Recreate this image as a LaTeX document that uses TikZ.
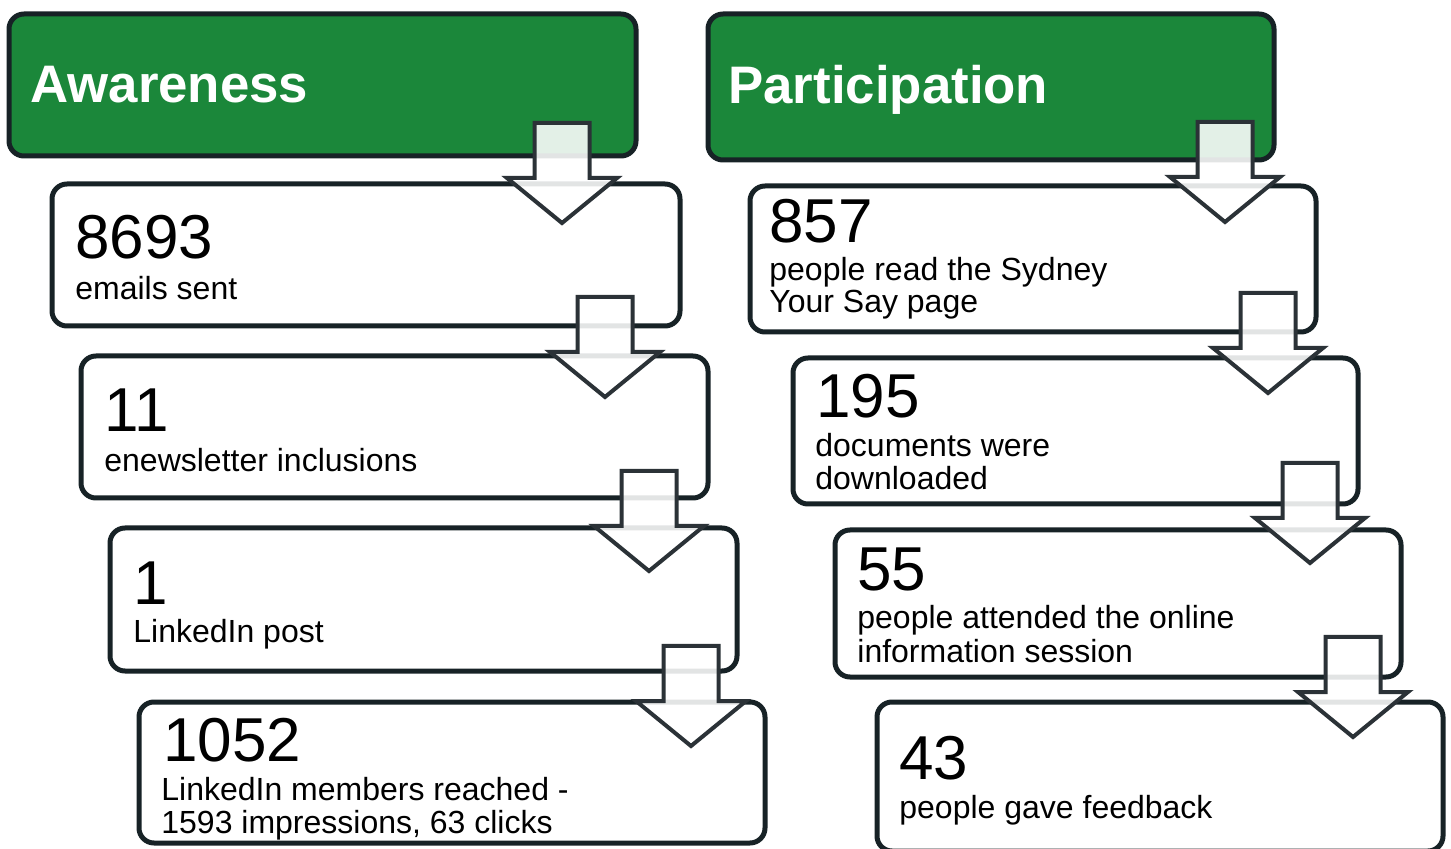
\documentclass[tikz,border=0pt]{standalone}
\usepackage{fontspec}
\setmainfont{Liberation Sans}
\usetikzlibrary{fit}
\definecolor{hdrgreen}{HTML}{1B873A}
\definecolor{edgedark}{HTML}{172226}
\definecolor{arrowedge}{HTML}{2B3237}
\tikzset{
  boxbase/.style={draw=edgedark, line width=2.5pt, rounded corners=7.5pt, inner sep=0pt},
  hdrbox/.style={boxbase, fill=hdrgreen},
  statbox/.style={boxbase, fill=white},
  hdrtext/.style={anchor=base west, inner sep=0pt, text=white, font=\fontsize{26.4}{30}\selectfont\bfseries},
  numtext/.style={anchor=base west, inner sep=0pt, font=\fontsize{31}{34}\selectfont},
  bodytext/.style={anchor=base west, inner sep=0pt, font=\fontsize{16}{18}\selectfont},
  arrowstyle/.style={draw=arrowedge, line width=2pt, fill=white, fill opacity=0.88, line join=miter},
  pics/darrow/.style={code={
    \draw[arrowstyle] (-27.5,0) -- (27.5,0) -- (27.5,55) -- (55,55) -- (0,100)
      -- (-55,55) -- (-27.5,55) -- cycle;}}
}
\begin{document}
\begin{tikzpicture}[x=0.5pt,y=-0.5pt]
\useasboundingbox (0,0) rectangle (1451,849);
% left column
\node[hdrbox, fit={(9,14) (636,156)}] (L0) {};
\node[statbox, fit={(52,184) (680,326)}] (L1) {};
\node[statbox, fit={(81,356) (708,498)}] (L2) {};
\node[statbox, fit={(110,528) (737,671)}] (L3) {};
\node[statbox, fit={(139,702) (765,843)}] (L4) {};
% right column
\node[hdrbox, fit={(708,14) (1274,160)}] (R0) {};
\node[statbox, fit={(750,186) (1316,332)}] (R1) {};
\node[statbox, fit={(793,358) (1358,504)}] (R2) {};
\node[statbox, fit={(835,530) (1401,677)}] (R3) {};
\node[statbox, fit={(877,702) (1443,851)}] (R4) {};
% headers
\node[hdrtext] (L0t) at (30,103) {Awareness};
\node[hdrtext] (R0t) at (728,104) {Participation};
% left texts
\node[numtext] (L1n) at (75,259) {8693};
\node[bodytext] (L1a) at (75,300) {emails sent};
\node[numtext] (L2n) at (104,432) {11};
\node[bodytext] (L2a) at (104,472) {enewsletter inclusions};
\node[numtext] (L3n) at (133,604) {1};
\node[bodytext] (L3a) at (133,643) {LinkedIn post};
\node[numtext] (L4n) at (163,761) {1052};
\node[bodytext] (L4a) at (161,800) {LinkedIn members reached -};
\node[bodytext] (L4b) at (161,833) {1593 impressions, 63 clicks};
% right texts
\node[numtext] (R1n) at (769,243) {857};
\node[bodytext] (R1a) at (769,281) {people read the Sydney};
\node[bodytext] (R1b) at (769,313) {Your Say page};
\node[numtext] (R2n) at (816,418) {195};
\node[bodytext] (R2a) at (815,457) {documents were};
\node[bodytext] (R2b) at (815,490) {downloaded};
\node[numtext] (R3n) at (857,591) {55};
\node[bodytext] (R3a) at (857,629) {people attended the online};
\node[bodytext] (R3b) at (857,662) {information session};
\node[numtext] (R4n) at (899,779) {43};
\node[bodytext] (R4a) at (899,818) {people gave feedback};
% arrows
\coordinate (aL1) at (562,123);
\coordinate (aL2) at (605,297);
\coordinate (aL3) at (649,471);
\coordinate (aL4) at (691,646);
\coordinate (aR1) at (1225,122);
\coordinate (aR2) at (1268,293);
\coordinate (aR3) at (1310,463);
\coordinate (aR4) at (1353,637);
\foreach \a in {aL1,aL2,aL3,aL4,aR1,aR2,aR3,aR4} \pic at (\a) {darrow};
\end{tikzpicture}
\end{document}
